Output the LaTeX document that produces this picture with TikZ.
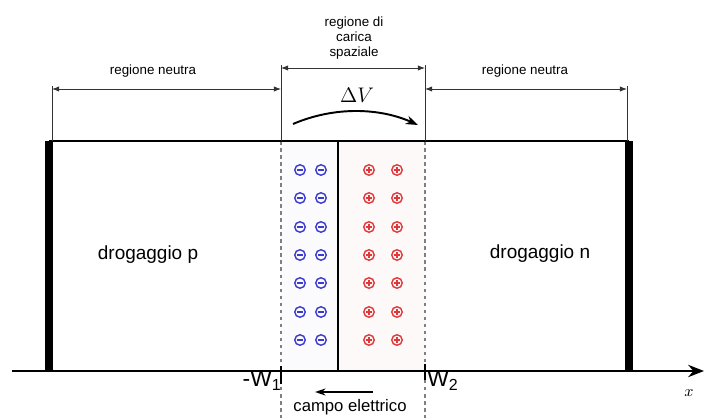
\documentclass[tikz,border=0pt]{standalone}
\usepackage{fontspec}
\setmainfont{Liberation Sans}
\usepackage{tikz}
\usetikzlibrary{arrows.meta,calc}
\usepackage{xcolor}
\definecolor{colneg}{HTML}{3A3ACF}
\definecolor{colpos}{HTML}{E0383A}
\definecolor{colquota}{HTML}{333333}
\newcommand{\ionineg}[2]{%
  \draw[colneg,line width=0.8pt] (#1,#2) circle (0.105cm);
  \draw[colneg,line width=0.8pt] ({#1-2.8},#2) -- ({#1+2.8},#2);}
\newcommand{\ionipos}[2]{%
  \draw[colpos,line width=0.8pt] (#1,#2) circle (0.105cm);
  \draw[colpos,line width=0.8pt] ({#1-2.8},#2) -- ({#1+2.8},#2);
  \draw[colpos,line width=0.8pt] (#1,{#2-2.8}) -- (#1,{#2+2.8});}
\newcommand{\filaioni}[1]{%
  \ionineg{300}{#1}\ionineg{321}{#1}\ionipos{369}{#1}\ionipos{397}{#1}}

\begin{document}
\begin{tikzpicture}[
  x=0.02cm,y=-0.02cm,
  font=\small,
  quota/.style={colquota,line width=0.5pt,{Latex[length=4pt,width=3pt]}-{Latex[length=4pt,width=3pt]}},
  guida/.style={colquota,line width=0.5pt},
  bordo/.style={line width=4pt},
  tratteggio/.style={gray,line width=0.6pt,dash pattern=on 2pt off 2pt},
  lbl/.style={font=\fontsize{7.6}{8.6}\selectfont,inner sep=0pt},
  testo/.style={font=\fontsize{10.8}{12}\selectfont,inner sep=0pt},
]
  \useasboundingbox (0,0) rectangle (707,418);
  % ---- punti di riferimento ----
  \coordinate (tl) at (49,141);
  \coordinate (tr) at (629,141);
  \coordinate (bl) at (49,371);
  \coordinate (br) at (629,371);
  \coordinate (w1t) at (281,141);
  \coordinate (w2t) at (425,141);
  \coordinate (w1b) at (281,418);
  \coordinate (w2b) at (425,418);
  \coordinate (gt) at (338,141);
  \coordinate (gb) at (338,371);
  % ---- zona di carica spaziale ----
  \fill[colneg!2] (w1t) rectangle (gb);
  \fill[colpos!3] (gt) rectangle (425,371);
  \filaioni{170}
  \filaioni{198}
  \filaioni{227}
  \filaioni{255}
  \filaioni{283}
  \filaioni{312}
  \filaioni{340}
  \draw[tratteggio] (w1t) -- (w1b);
  \draw[tratteggio] (w2t) -- (w2b);
  \draw[line width=1pt] (gt) -- (gb);
  % ---- blocco ----
  \draw[line width=1.1pt] (tl) -- (tr);
  \draw[bordo] (tl) -- (bl);
  \draw[bordo] (tr) -- (br);
  \coordinate (x0) at (12,371);
  \coordinate (x1) at (704,371);
  \draw[line width=1.2pt,-{Stealth[length=9pt,width=7pt]}] (x0) -- (x1);
  \node[inner sep=0pt,font=\small] (xl) at (689,393) {$x$};
  \draw[line width=1.3pt] (281,366) -- (281,384);
  \draw[line width=1.3pt] (425,364) -- (425,380);
  \node[anchor=east,inner sep=0pt,font=\fontsize{13}{14}\selectfont] (lw1) at (282,381) {-W\textsubscript{1}};
  \node[anchor=west,inner sep=0pt,font=\fontsize{13}{14}\selectfont] (lw2) at (427,381) {W\textsubscript{2}};
  \node[testo] (dp) at (148,255) {drogaggio p};
  \node[testo] (dn) at (540,254) {drogaggio n};
  % ---- quote ----
  \coordinate (q1a) at (52,89);
  \coordinate (q1b) at (281,89);
  \coordinate (q2a) at (425,89);
  \coordinate (q2b) at (627,89);
  \coordinate (q3a) at (281,68);
  \coordinate (q3b) at (425,68);
  \draw[guida] (52,86) -- (52,141);
  \draw[guida] (627,86) -- (627,141);
  \draw[guida] (281,65) -- (w1t);
  \draw[guida] (425,65) -- (w2t);
  \draw[quota] (q1a) -- (q1b);
  \draw[quota] (q2a) -- (q2b);
  \draw[quota] (q3a) -- (q3b);
  \node[lbl] (rn1) at (153,71) {regione neutra};
  \node[lbl] (rn2) at (525,71) {regione neutra};
  \node[lbl,align=center] (rcs) at (354,38) {regione di\\carica\\spaziale};
  % ---- potenziale e campo ----
  \node[inner sep=0pt,font=\large] (dv) at (357,95) {$\Delta V$};
  \coordinate (v0) at (293,124);
  \coordinate (v1) at (418,125);
  \draw[line width=1.1pt,-{Stealth[length=7pt,width=5pt]}] (v0) .. controls (335,106) and (380,108) .. (v1);
  \coordinate (e0) at (373,392);
  \coordinate (e1) at (315,392);
  \draw[line width=1pt,-{Stealth[length=6pt,width=4pt]}] (e0) -- (e1);
  \node[inner sep=0pt,font=\fontsize{9.5}{11}\selectfont] (ce) at (350,407) {campo elettrico};
\end{tikzpicture}
\end{document}
